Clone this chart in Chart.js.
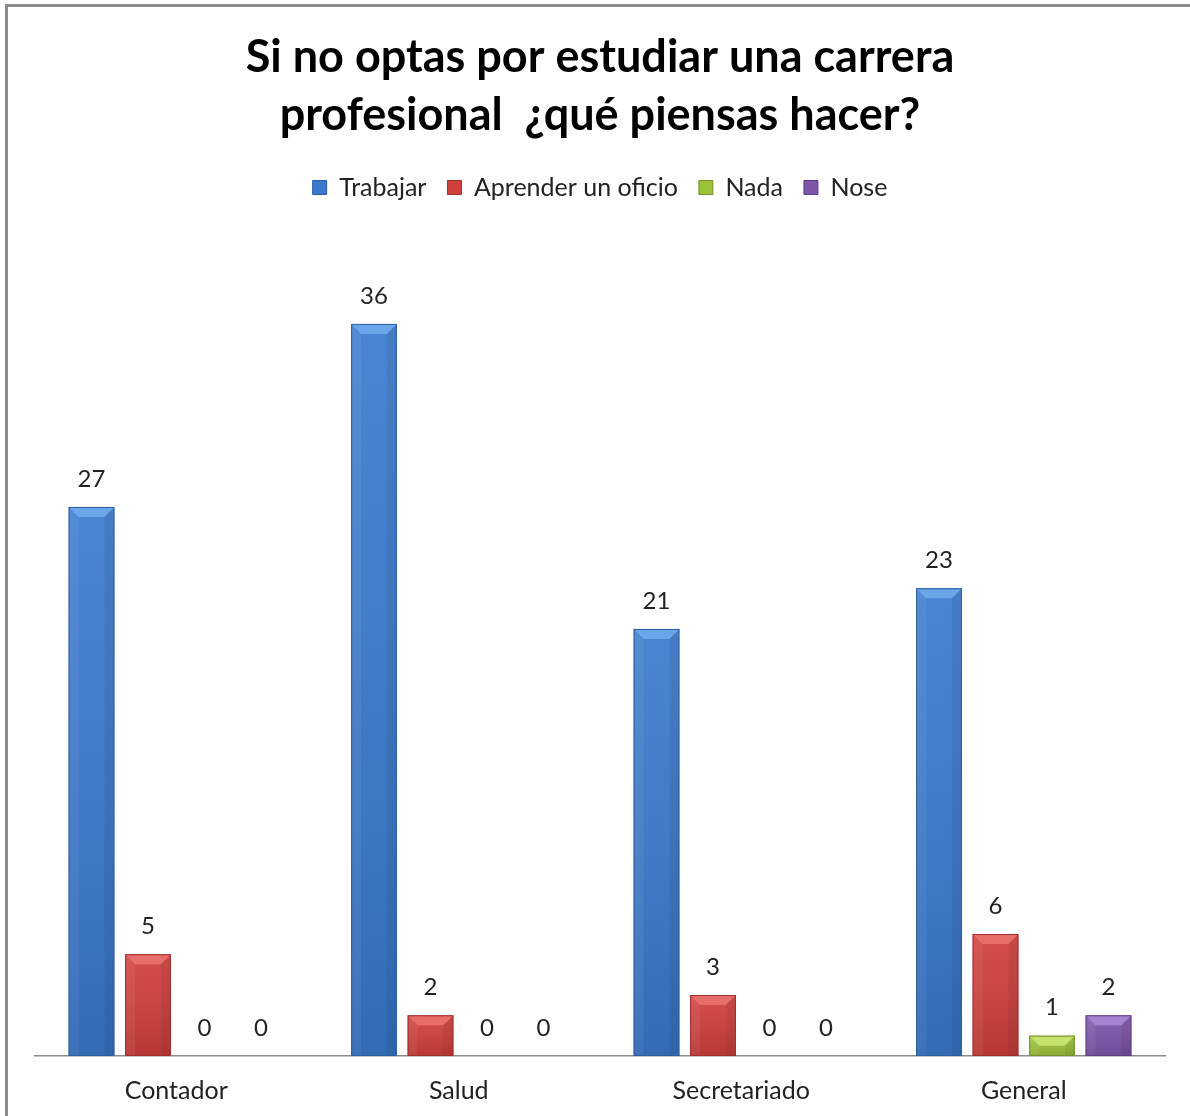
<!DOCTYPE html>
<html>
<head>
<meta charset="utf-8">
<script src="https://cdn.jsdelivr.net/npm/chart.js@4/dist/chart.umd.min.js"></script>
<style>
  html, body { margin: 0; padding: 0; background: #fff; overflow: hidden; }
  #wrap { position: relative; width: 1190px; height: 1116px; }
  #frame { position: absolute; left: 5px; top: 4px; width: 1300px; height: 1300px;
           border-top: 3px solid #8c8c8c; border-left: 3px solid #8c8c8c; pointer-events: none; box-sizing: border-box; }
  canvas { position: absolute; left: 0; top: 0; }
</style>
</head>
<body>
<div id="wrap">
  <canvas id="c" width="1190" height="1116"></canvas>
  <div id="frame"></div>
</div>
<script>
const titleLines = ["Si no optas por estudiar una carrera", "profesional  ¿qué piensas hacer?"];
const categories = ["Contador", "Salud", "Secretariado", "General"];
const seriesNames = ["Trabajar", "Aprender un oficio", "Nada", "Nose"];
const trabajar = [27, 36, 21, 23];
const aprender = [5, 2, 3, 6];
const nada = [0, 0, 0, 1];
const nose = [0, 0, 0, 2];
const seriesColors = ["#3a7ace", "#cf3f3c", "#9cc23a", "#7e55aa"];
const seriesLight = ["#6ba5ea", "#e86e6a", "#c4e26c", "#a686d0"];
const seriesDark = ["#2b5e9f", "#9e2e2c", "#73902a", "#5c3d7e"];
const FONT = 'Lato, "Open Sans", sans-serif';

const bevelPlugin = {
  id: 'bevel',
  afterDatasetsDraw(chart) {
    const ctx = chart.ctx;
    chart.data.datasets.forEach((ds, di) => {
      const meta = chart.getDatasetMeta(di);
      meta.data.forEach((el) => {
        const h = el.base - el.y;
        if (h < 1) return;
        const l = el.x - el.width / 2, r = el.x + el.width / 2, t = el.y, btm = el.base;
        const b = Math.min(10, h / 2);
        ctx.save();
        const g = ctx.createLinearGradient(0, t, 0, btm);
        g.addColorStop(0, 'rgba(255,255,255,0.08)');
        g.addColorStop(1, 'rgba(0,0,0,0.12)');
        ctx.fillStyle = g;
        ctx.fillRect(l, t, r - l, h);
        ctx.fillStyle = seriesLight[di];
        ctx.beginPath();
        ctx.moveTo(l, t); ctx.lineTo(r, t); ctx.lineTo(r - b, t + b); ctx.lineTo(l + b, t + b); ctx.closePath();
        ctx.fill();
        ctx.fillStyle = 'rgba(255,255,255,0.06)';
        ctx.beginPath();
        ctx.moveTo(l, t); ctx.lineTo(l + b, t + b); ctx.lineTo(l + b, btm); ctx.lineTo(l, btm); ctx.closePath();
        ctx.fill();
        ctx.fillStyle = 'rgba(0,0,0,0.06)';
        ctx.beginPath();
        ctx.moveTo(r, t); ctx.lineTo(r - b, t + b); ctx.lineTo(r - b, btm); ctx.lineTo(r, btm); ctx.closePath();
        ctx.fill();
        ctx.strokeStyle = seriesDark[di];
        ctx.lineWidth = 1;
        ctx.strokeRect(l + 0.5, t + 0.5, r - l - 1, h - 1);
        ctx.restore();
      });
    });
    ctx.save();
    ctx.font = '24px ' + FONT;
    ctx.fillStyle = '#222';
    ctx.textAlign = 'center';
    ctx.textBaseline = 'middle';
    chart.data.datasets.forEach((ds, di) => {
      const meta = chart.getDatasetMeta(di);
      meta.data.forEach((el, i) => {
        ctx.fillText(String(ds.data[i]), el.x, el.y - 28);
      });
    });
    ctx.restore();
  }
};

const allSeries = [trabajar, aprender, nada, nose];
new Chart(document.getElementById('c'), {
  type: 'bar',
  data: {
    labels: categories,
    datasets: allSeries.map((d, i) => ({
      label: seriesNames[i],
      data: d,
      backgroundColor: seriesColors[i],
      borderWidth: 0,
      categoryPercentage: 0.8,
      barPercentage: 0.81
    }))
  },
  options: {
    responsive: false,
    animation: false,
    layout: { padding: { left: 35, right: 25, top: 0, bottom: -10 } },
    plugins: {
      title: {
        display: true,
        text: titleLines,
        color: '#000',
        font: { family: FONT, size: 45, weight: 'bold', lineHeight: 1.3 },
        padding: { top: 28, bottom: 9 }
      },
      legend: {
        display: true,
        position: 'top',
        labels: {
          color: '#222',
          font: { family: FONT, size: 25 },
          boxWidth: 14,
          boxHeight: 14,
          padding: 21,
          generateLabels(chart) {
            return seriesNames.map((n, i) => ({
              text: n, fillStyle: seriesColors[i], strokeStyle: seriesDark[i], lineWidth: 1,
              datasetIndex: i, hidden: false, fontColor: '#222'
            }));
          }
        }
      },
      tooltip: { enabled: false }
    },
    scales: {
      x: {
        grid: { display: false, drawTicks: false },
        border: { display: true, color: '#8c8c8c', width: 1.5 },
        ticks: { color: '#222', font: { family: FONT, size: 25 }, padding: 20 }
      },
      y: {
        display: false,
        min: 0,
        max: 41.6
      }
    }
  },
  plugins: [bevelPlugin]
});
</script>
</body>
</html>
